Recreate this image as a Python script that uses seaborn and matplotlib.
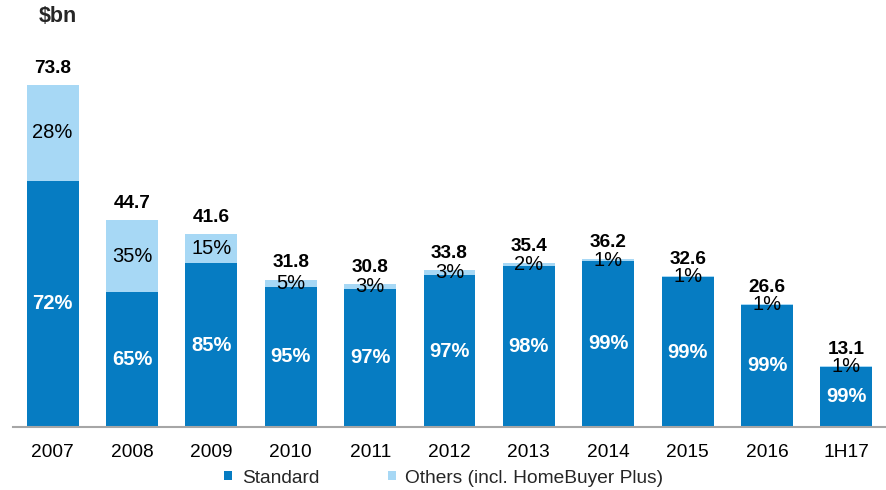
import matplotlib
matplotlib.use("Agg")
import matplotlib.pyplot as plt
import seaborn as sns
import pandas as pd
from matplotlib.patches import Patch

categories = ["2007", "2008", "2009", "2010", "2011", "2012", "2013", "2014", "2015", "2016", "1H17"]
totals = [73.8, 44.7, 41.6, 31.8, 30.8, 33.8, 35.4, 36.2, 32.6, 26.6, 13.1]
standard_pct = [72, 65, 85, 95, 97, 97, 98, 99, 99, 99, 99]
others_pct = [28, 35, 15, 5, 3, 3, 2, 1, 1, 1, 1]
series_names = ["Standard", "Others (incl. HomeBuyer Plus)"]

DARK = "#067CC2"
LIGHT = "#A7D8F5"

sns.set_theme(style="white")
plt.rcParams['font.family'] = ['Liberation Sans', 'DejaVu Sans']

others_val = [t * p / 100 for t, p in zip(totals, others_pct)]
standard_val = [t - o for t, o in zip(totals, others_val)]
df = pd.DataFrame({"period": categories, "total": totals, "standard": standard_val, "others": others_val})

fig = plt.figure(figsize=(8.86, 4.9), dpi=100)
ax = fig.add_axes([13 / 886, 63 / 490, 873 / 886, 407 / 490])

W = 0.655
sns.barplot(data=df, x="period", y="total", color=LIGHT, width=W, saturation=1, ax=ax, edgecolor="none")
sns.barplot(data=df, x="period", y="standard", color=DARK, width=W, saturation=1, ax=ax, edgecolor="none")

ax.set_xlim(-0.5, 10.5)
ax.set_ylim(0, 87.8)

for i in range(len(categories)):
    s = standard_val[i]
    o = others_val[i]
    ax.text(i, s / 2, f"{standard_pct[i]}%", ha="center", va="center", color="white",
            fontsize=14.5, fontweight="bold")
    ax.text(i, s + o / 2, f"{others_pct[i]}%", ha="center", va="center", color="black",
            fontsize=14.5)
    ax.annotate(f"{totals[i]:.1f}", xy=(i, totals[i]), xytext=(0, 12), textcoords="offset points",
                ha="center", va="center", fontsize=13.7, fontweight="bold", color="black")

for side in ["left", "top", "right"]:
    ax.spines[side].set_visible(False)
ax.spines["bottom"].set_color("#A6A6A6")
ax.spines["bottom"].set_linewidth(1.5)
ax.set_yticks([])
ax.set_xlabel("")
ax.set_ylabel("")
ax.tick_params(axis="x", length=0, pad=12.5, labelsize=13.8, labelcolor="black")

fig.text(58 / 886, 1 - 17 / 490, "$bn", ha="center", va="center", fontsize=15.5, fontweight="bold")

handles = [Patch(facecolor=DARK, edgecolor="none"), Patch(facecolor=LIGHT, edgecolor="none")]
fig.legend(handles, series_names, loc="center", bbox_to_anchor=(0.501, 1 - 478 / 490), ncol=2,
           frameon=False, handlelength=0.4, handleheight=0.4, handletextpad=0.5,
           columnspacing=3.6, fontsize=13.8, borderpad=0, borderaxespad=0)

fig.savefig("out.png", dpi=100)
